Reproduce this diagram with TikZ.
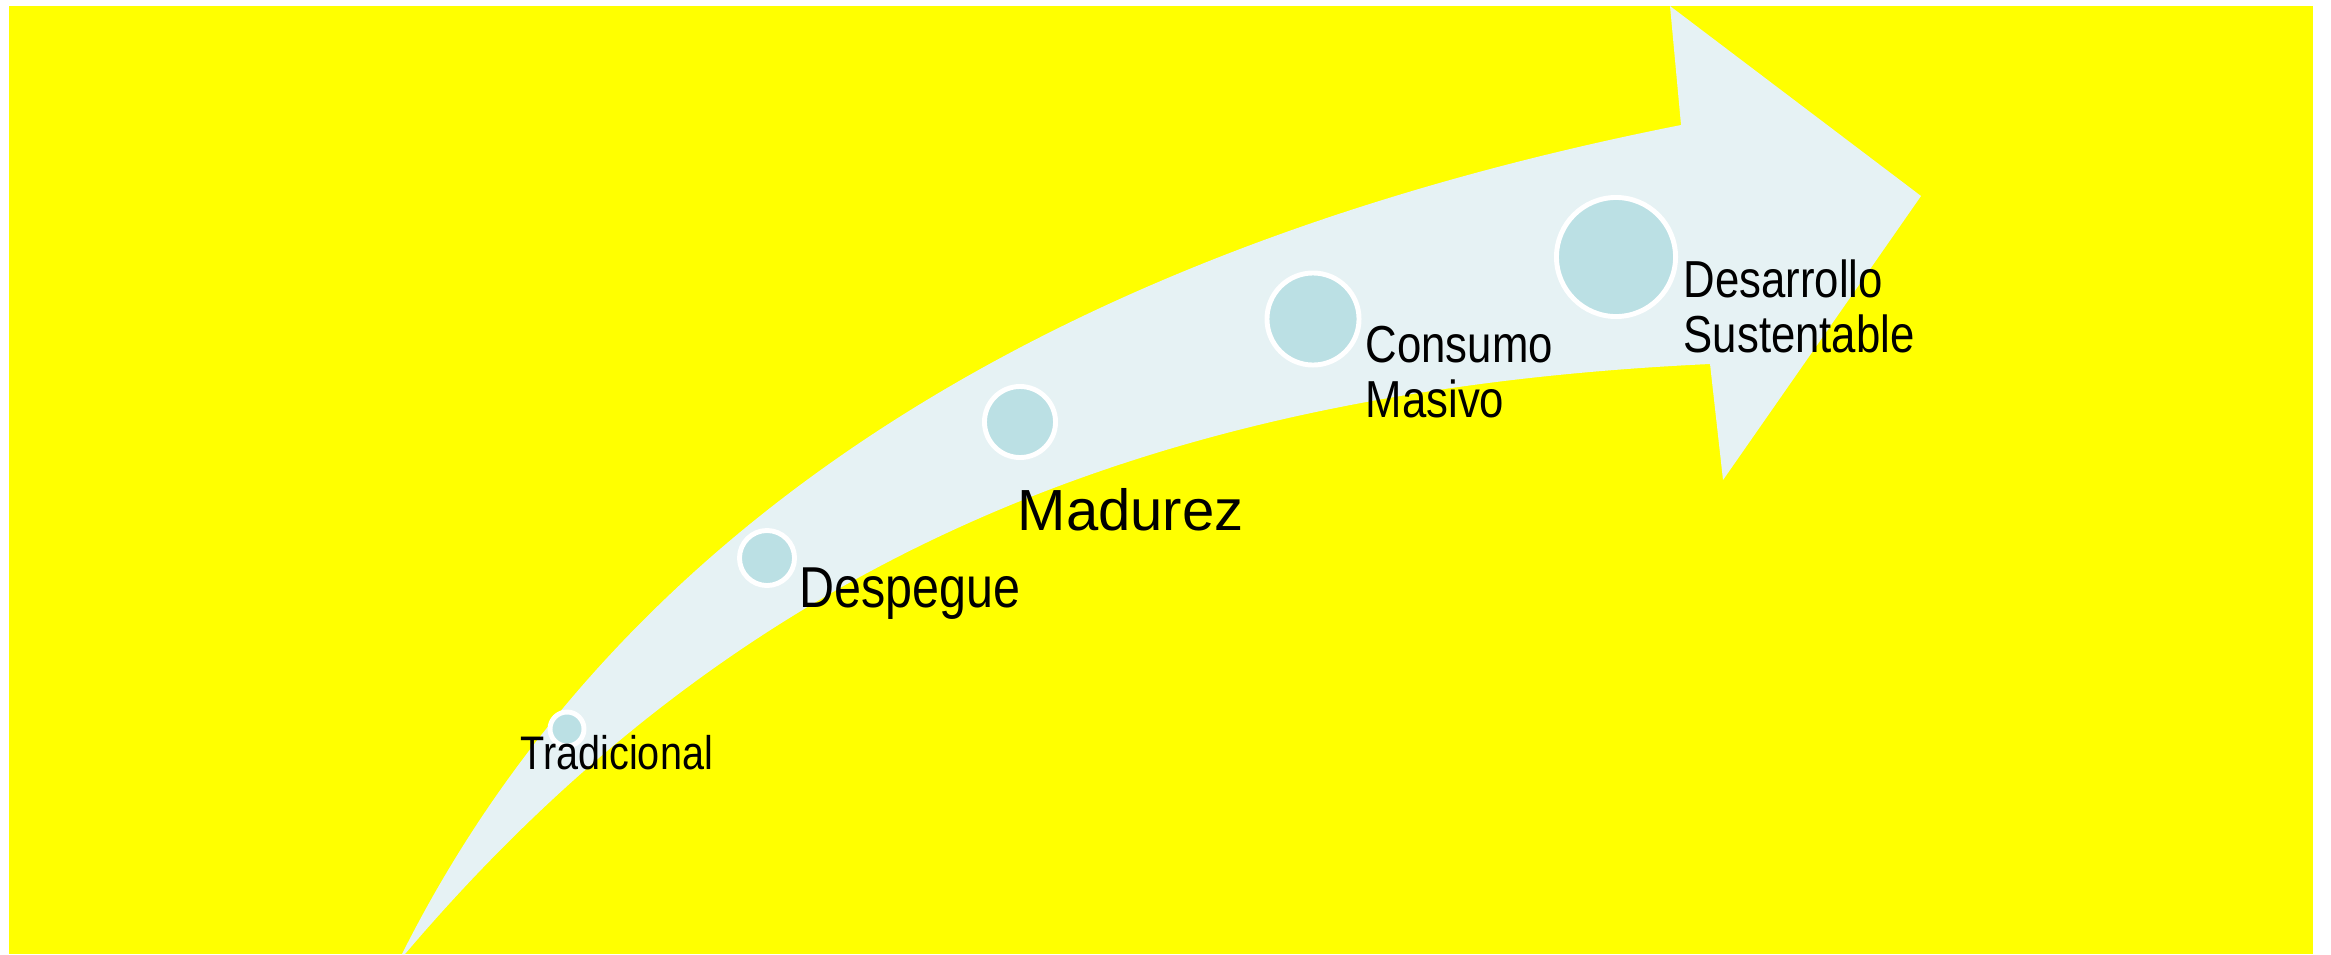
\documentclass[tikz,border=0pt]{standalone}
\usepackage{fontspec}
\setmainfont{Liberation Sans}[FakeStretch=0.84]
\newfontfamily\widefont{Liberation Sans}
\definecolor{bgyellow}{RGB}{255,255,0}
\definecolor{arrowfill}{RGB}{230,242,244}
\definecolor{dotfill}{RGB}{187,224,228}
\tikzset{
    stage/.style={circle, fill=dotfill, draw=white, line width=1.4pt, inner sep=0pt},
    stagetext/.style={anchor=base west, inner sep=0pt, align=left}
}
\begin{document}
\begin{tikzpicture}[x=0.01cm, y=-0.01cm]
        \useasboundingbox (0,0) rectangle (2331,954);
        \fill[bgyellow] (9,6) rectangle (2313,954);
        \fill[arrowfill] (402,954) .. controls (600,560) and (1000,260) .. (1681,125)
            -- (1670,6) -- (1921,196) -- (1723,480) -- (1710,364)
            .. controls (1150,390) and (740,560) .. (405,954) -- cycle;

        \node[stage, minimum size=0.34cm] (trad) at (567,729) {};
        \node[stage, minimum size=0.55cm] (desp) at (767,558) {};
        \node[stage, minimum size=0.71cm] (mad) at (1020,422) {};
        \node[stage, minimum size=0.92cm] (cons) at (1313,319) {};
        \node[stage, minimum size=1.19cm] (desa) at (1616,257) {};

        \node[stagetext, font=\fontsize{13.4pt}{15pt}\selectfont] (tradtext) at (520,769) {Tradicional};
        \node[stagetext, font=\fontsize{16.4pt}{18pt}\selectfont] (desptext) at (799,607) {Despegue};
        \node[stagetext, font=\widefont\fontsize{16.5pt}{18pt}\selectfont] (madtext) at (1017,530) {Madurez};
        \node[stagetext, font=\fontsize{14.8pt}{15.4pt}\selectfont] (constext) at (1365,417) {Consumo\\Masivo};
        \node[stagetext, font=\fontsize{14.8pt}{15.4pt}\selectfont] (desatext) at (1683,352) {Desarrollo\\Sustentable};
\end{tikzpicture}
\end{document}
